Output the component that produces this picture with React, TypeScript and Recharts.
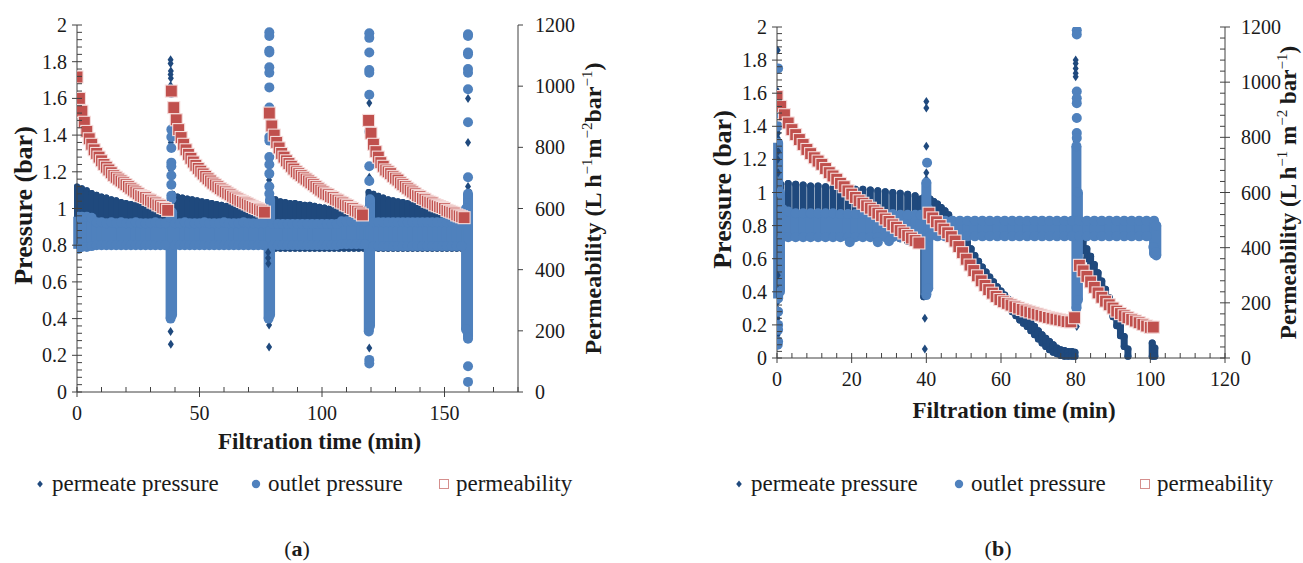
import React from 'react';
import { ScatterChart, Scatter, XAxis, YAxis, ErrorBar, Legend } from 'recharts';

const DARK = '#1f497d';
const LIGHT = '#4f81bd';
const RED = '#c0504d';
const AXIS = '#404040';
const INK = '#1a1a1a';
const FONT = '"Liberation Serif", "Times New Roman", Times, serif';

// axis tick labels
const pressureTicks = [0, 0.2, 0.4, 0.6, 0.8, 1, 1.2, 1.4, 1.6, 1.8, 2];
const permTicks = [0, 200, 400, 600, 800, 1000, 1200];
const timeTicksA = [0, 50, 100, 150];
const timeTicksB = [0, 20, 40, 60, 80, 100, 120];

// minor tick positions
const pressureMinor = Array.from({ length: 51 }, (_, i) => Math.round(i * 4) / 100);
const timeMinorA = Array.from({ length: 19 }, (_, i) => i * 10);
const timeMinorB = Array.from({ length: 31 }, (_, i) => i * 4);
const permMinorB = Array.from({ length: 31 }, (_, i) => i * 40);

type Band = [number, number, number]; // [time min, low bar, high bar] of a dense cloud of readings
type Pt = [number, number]; // [time min, bar]

// ---------- (a) ----------
const permeateBandA: Band[] = [
  [0, 0.86, 1.12], [2, 0.86, 1.11], [4, 0.86, 1.1], [6, 0.86, 1.085], [8, 0.86, 1.075], [10, 0.86, 1.065],
  [12, 0.86, 1.06], [14, 0.86, 1.05], [16, 0.86, 1.045], [18, 0.86, 1.035], [20, 0.86, 1.03], [22, 0.86, 1.025],
  [24, 0.86, 1.02], [26, 0.86, 1.01], [28, 0.86, 1.005], [30, 0.86, 1.0], [32, 0.86, 0.99], [34, 0.86, 0.985],
  [36, 0.86, 0.975], [37.5, 0.86, 0.965],
  [39, 0.86, 1.08], [41, 0.86, 1.065], [43, 0.86, 1.06], [45, 0.86, 1.055], [47, 0.86, 1.05], [49, 0.86, 1.045],
  [51, 0.86, 1.04], [53, 0.86, 1.035], [55, 0.86, 1.03], [57, 0.86, 1.025], [59, 0.86, 1.02], [61, 0.86, 1.015],
  [63, 0.86, 1.01], [65, 0.86, 1.005], [67, 0.86, 1.0], [69, 0.86, 0.99], [71, 0.86, 0.985], [73, 0.86, 0.98],
  [75, 0.86, 0.975], [77, 0.86, 0.965],
  [79, 0.78, 1.06], [81, 0.78, 1.05], [83, 0.78, 1.04], [85, 0.78, 1.035], [87, 0.78, 1.03], [89, 0.78, 1.03],
  [91, 0.78, 1.025], [93, 0.78, 1.02], [95, 0.78, 1.02], [97, 0.78, 1.015], [99, 0.78, 1.01], [101, 0.78, 1.005],
  [103, 0.78, 1.0], [105, 0.78, 0.99], [107, 0.78, 0.985], [109, 0.78, 0.975], [111, 0.78, 0.97], [113, 0.78, 0.96],
  [115, 0.78, 0.955], [117, 0.78, 0.945],
  [119, 0.78, 1.09], [121, 0.78, 1.08], [123, 0.78, 1.07], [125, 0.78, 1.06], [127, 0.78, 1.05], [129, 0.78, 1.045],
  [131, 0.78, 1.04], [133, 0.78, 1.035], [135, 0.78, 1.03], [137, 0.78, 1.025], [139, 0.78, 1.02], [141, 0.78, 1.015],
  [143, 0.78, 1.01], [145, 0.78, 1.005], [147, 0.78, 1.0], [149, 0.78, 0.995], [151, 0.78, 0.99], [153, 0.78, 0.985],
  [155, 0.78, 0.98], [157, 0.78, 0.97], [159, 0.78, 1.05], [160, 0.8, 1.09],
];
const permeateDotsA: Pt[] = [
  [38.2, 1.81], [38.2, 1.79], [38.3, 1.75], [38.2, 1.73], [38.3, 1.71], [38.2, 1.67], [38.3, 1.36], [38.2, 1.25],
  [38.3, 1.21], [38.2, 0.33], [38.3, 0.26],
  [78.4, 1.155], [78.0, 0.76], [78.0, 0.73], [78.1, 0.7], [78.4, 0.365], [78.4, 0.245],
  [119.3, 1.575], [119.3, 1.17], [119.3, 0.24],
  [159.6, 1.6], [159.6, 1.36], [159.6, 1.12],
];
const outletBandA: Band[] = [
  [0.5, 0.78, 0.955], [2, 0.79, 0.955], [4, 0.79, 0.955], [6, 0.795, 0.95], [8, 0.8, 0.925], [10, 0.8, 0.925],
  [12, 0.8, 0.92], [14, 0.8, 0.925], [16, 0.8, 0.92], [18, 0.8, 0.925], [20, 0.8, 0.92], [22, 0.8, 0.92],
  [24, 0.8, 0.925], [26, 0.8, 0.92], [28, 0.8, 0.92], [30, 0.8, 0.92], [32, 0.8, 0.925], [34, 0.8, 0.92], [36, 0.8, 0.92],
  [38.2, 0.4, 0.95], [38.8, 0.42, 0.98],
  [40, 0.8, 0.92], [42, 0.8, 0.92], [44, 0.8, 0.925], [46, 0.8, 0.92], [48, 0.8, 0.92], [50, 0.8, 0.92],
  [52, 0.8, 0.925], [54, 0.8, 0.92], [56, 0.8, 0.92], [58, 0.8, 0.92], [60, 0.8, 0.925], [62, 0.8, 0.92],
  [64, 0.8, 0.92], [66, 0.8, 0.92], [68, 0.8, 0.925], [70, 0.8, 0.92], [72, 0.8, 0.92], [74, 0.8, 0.92], [76, 0.8, 0.92],
  [78.2, 0.4, 1.0], [78.8, 0.42, 1.05],
  [80, 0.8, 0.915], [82, 0.8, 0.915], [84, 0.8, 0.915], [86, 0.8, 0.915], [88, 0.8, 0.915], [90, 0.8, 0.915],
  [92, 0.8, 0.915], [94, 0.8, 0.915], [96, 0.8, 0.915], [98, 0.8, 0.915], [100, 0.8, 0.915], [102, 0.8, 0.915],
  [104, 0.8, 0.915], [106, 0.8, 0.915], [108, 0.805, 0.93], [110, 0.805, 0.93], [112, 0.805, 0.93], [114, 0.805, 0.93],
  [116, 0.805, 0.93], [117.5, 0.805, 0.93],
  [119.1, 0.33, 1.0], [119.6, 0.36, 1.05],
  [121, 0.795, 0.925], [123, 0.795, 0.925], [125, 0.795, 0.925], [127, 0.795, 0.925], [129, 0.795, 0.925],
  [131, 0.795, 0.925], [133, 0.795, 0.925], [135, 0.795, 0.925], [137, 0.795, 0.925], [139, 0.795, 0.925],
  [141, 0.795, 0.925], [143, 0.795, 0.925], [145, 0.795, 0.925], [147, 0.795, 0.925], [149, 0.795, 0.925],
  [151, 0.795, 0.925], [153, 0.795, 0.925], [155, 0.795, 0.925], [157, 0.795, 0.925],
  [158.8, 0.34, 1.0], [159.6, 0.3, 1.08],
];
const outletDotsA: Pt[] = [
  [38.5, 1.63], [38.5, 1.43], [38.5, 1.39], [38.5, 1.33], [38.5, 1.25], [38.5, 1.23], [38.5, 1.18], [38.5, 1.13],
  [38.5, 1.07], [38.5, 1.05],
  [78.5, 1.96], [78.5, 1.94], [78.5, 1.86], [78.5, 1.85], [78.5, 1.77], [78.5, 1.74], [78.5, 1.66], [78.5, 1.55],
  [78.5, 1.51], [78.5, 1.39], [78.5, 1.37], [78.5, 1.28], [78.5, 1.24], [78.5, 1.19], [78.5, 1.12], [78.5, 1.08],
  [119.3, 1.955], [119.3, 1.93], [119.3, 1.85], [119.3, 1.755], [119.3, 1.74], [119.3, 1.62], [119.3, 1.42],
  [119.3, 1.23], [119.3, 1.15], [119.3, 0.175], [119.3, 0.155],
  [159.6, 1.95], [159.6, 1.94], [159.6, 1.85], [159.6, 1.84], [159.6, 1.76], [159.6, 1.74], [159.6, 1.65],
  [159.6, 1.47], [159.6, 1.17], [159.6, 0.29], [159.6, 0.14], [159.6, 0.055],
];
// permeability, one reading per minute from the start of each cycle (L h-1 m-2 bar-1)
const permA1Start = 0;
const permA1 = [1030, 960, 918, 882, 852, 828, 810, 792, 780, 768, 756, 744, 735, 726, 717, 708, 702, 696, 690, 684,
  678, 672, 666, 660, 654, 648, 642, 639, 636, 630, 627, 621, 618, 612, 609, 603, 600, 594];
const permA2Start = 38.5;
const permA2 = [984, 930, 890, 858, 832, 810, 792, 777, 764, 752, 741, 731, 722, 713, 705, 697, 690, 683, 677, 671,
  665, 660, 655, 650, 645, 640, 635, 631, 627, 623, 619, 615, 611, 607, 603, 600, 596, 592, 588];
const permA3Start = 78.5;
const permA3 = [912, 870, 840, 816, 798, 780, 768, 756, 747, 738, 729, 720, 714, 708, 702, 696, 690, 684, 678, 672,
  666, 660, 654, 648, 645, 639, 636, 630, 627, 621, 618, 612, 609, 603, 600, 594, 591, 585, 579];
const permA4Start = 119;
const permA4 = [888, 846, 810, 786, 768, 750, 738, 726, 720, 714, 705, 699, 693, 684, 678, 672, 666, 660, 654, 648,
  642, 639, 633, 630, 624, 621, 618, 612, 609, 606, 603, 600, 594, 591, 588, 585, 579, 576, 573, 570];

// ---------- (b) ----------
const permeateBandB: Band[] = [
  [1, 0.87, 1.05], [3, 0.87, 1.055], [5, 0.87, 1.05], [7, 0.865, 1.045], [9, 0.86, 1.04], [11, 0.855, 1.04],
  [13, 0.85, 1.035], [15, 0.845, 1.03], [17, 0.84, 1.025], [19, 0.83, 1.025], [21, 0.82, 1.02], [23, 0.81, 1.02],
  [25, 0.79, 1.015], [27, 0.775, 1.01], [29, 0.76, 1.005], [31, 0.74, 1.0], [33, 0.72, 0.995], [35, 0.705, 0.99],
  [37, 0.69, 0.98], [38.5, 0.68, 0.96],
  [39.3, 0.37, 0.97], [39.8, 0.4, 1.0],
  [41, 0.89, 0.96], [42, 0.875, 0.945], [43, 0.86, 0.93], [44, 0.84, 0.91], [45, 0.82, 0.89], [46, 0.805, 0.865],
  [47, 0.785, 0.835], [48, 0.76, 0.81], [49, 0.73, 0.78], [50, 0.69, 0.74], [51, 0.65, 0.7], [52, 0.61, 0.66],
  [53, 0.57, 0.62], [54, 0.535, 0.585], [55, 0.5, 0.55], [56, 0.47, 0.52], [57, 0.44, 0.49], [58, 0.41, 0.46],
  [59, 0.38, 0.43], [60, 0.355, 0.405], [61, 0.33, 0.38], [62, 0.305, 0.355], [63, 0.28, 0.33], [64, 0.255, 0.305],
  [65, 0.23, 0.28], [66, 0.21, 0.26], [67, 0.19, 0.24], [68, 0.165, 0.215], [69, 0.14, 0.19], [70, 0.115, 0.165],
  [71, 0.09, 0.14], [72, 0.07, 0.12], [73, 0.05, 0.1], [74, 0.035, 0.08], [75, 0.025, 0.06], [76, 0.015, 0.05],
  [77, 0.01, 0.045], [78, 0.01, 0.04], [79, 0.01, 0.04], [79.8, 0.01, 0.035],
  [81, 0.69, 0.75], [82, 0.65, 0.71], [83, 0.6, 0.66], [84, 0.555, 0.615], [85, 0.505, 0.565], [86, 0.455, 0.515],
  [87, 0.405, 0.465], [88, 0.355, 0.415], [89, 0.305, 0.365], [90, 0.25, 0.31], [91, 0.195, 0.255], [92, 0.135, 0.195],
  [93, 0.07, 0.13], [94, 0.01, 0.055],
  [100.5, 0.01, 0.09], [101.2, 0.01, 0.06],
];
const permeateDotsB: Pt[] = [
  [0.2, 1.86], [0.2, 1.61], [0.3, 1.5], [0.3, 1.36], [0.2, 1.33], [0.3, 1.25], [0.2, 1.2], [0.3, 1.12],
  [0.2, 0.5], [0.3, 0.41], [0.2, 0.34], [0.3, 0.29], [0.2, 0.24], [0.3, 0.2], [0.2, 0.14],
  [40, 1.55], [40, 1.51], [40, 1.28], [40, 1.12], [40, 1.08], [39.6, 0.24], [39.6, 0.055],
  [80, 1.8], [80, 1.78], [80, 1.75], [80, 1.72], [80, 1.7], [80, 1.45], [80, 1.31], [80.5, 0.27], [80.3, 0.19],
];
const outletBandB: Band[] = [
  [0.3, 0.36, 1.3], [0.8, 0.4, 1.0],
  [1.5, 0.73, 0.9], [3, 0.73, 0.885], [5, 0.73, 0.875], [7, 0.73, 0.875], [9, 0.73, 0.875], [11, 0.73, 0.875],
  [13, 0.73, 0.875], [15, 0.73, 0.875], [17, 0.73, 0.87], [19, 0.73, 0.87], [21, 0.73, 0.87], [23, 0.73, 0.87],
  [25, 0.73, 0.87], [27, 0.73, 0.87], [29, 0.73, 0.87], [31, 0.73, 0.87], [33, 0.73, 0.865], [35, 0.73, 0.865],
  [37, 0.73, 0.865], [38.5, 0.73, 0.865],
  [40, 0.38, 1.06], [40.5, 0.42, 0.9],
  [41, 0.735, 0.83], [43, 0.735, 0.83], [45, 0.735, 0.83], [47, 0.735, 0.83], [49, 0.735, 0.83], [51, 0.735, 0.83],
  [53, 0.735, 0.83], [55, 0.735, 0.83], [57, 0.735, 0.83], [59, 0.735, 0.83], [61, 0.735, 0.83], [63, 0.735, 0.83],
  [65, 0.735, 0.83], [67, 0.735, 0.83], [69, 0.735, 0.83], [71, 0.735, 0.83], [73, 0.735, 0.83], [75, 0.735, 0.83],
  [77, 0.735, 0.83], [79, 0.735, 0.83], [81, 0.735, 0.83], [83, 0.735, 0.83], [85, 0.735, 0.83], [87, 0.735, 0.83],
  [89, 0.735, 0.83], [91, 0.735, 0.83], [93, 0.735, 0.83], [95, 0.735, 0.83], [97, 0.735, 0.83], [99, 0.735, 0.83],
  [101, 0.63, 0.83], [101.6, 0.62, 0.8],
  [80.2, 0.3, 1.28], [80.6, 0.35, 1.0],
];
const outletDotsB: Pt[] = [
  [0.3, 1.75], [0.3, 1.48], [0.3, 1.4], [0.3, 0.28], [0.3, 0.2], [0.3, 0.17], [0.3, 0.1], [0.2, 0.08],
  [19.5, 0.7], [27, 0.7], [30, 0.705],
  [40.2, 1.18],
  [80.3, 1.98], [80.3, 1.955], [80.3, 1.61], [80.3, 1.57], [80.3, 1.54], [80.3, 1.45], [80.3, 1.36], [80.3, 1.33],
  [100.8, 0.67], [101.5, 0.64],
];
const permB1Start = 0;
const permB1 = [948, 912, 882, 852, 828, 810, 792, 774, 756, 741, 726, 714, 702, 687, 672, 660, 648, 633, 621, 606,
  594, 582, 570, 561, 552, 543, 534, 525, 516, 504, 495, 483, 474, 462, 453, 444, 435, 426, 417];
const permB2Start = 40.7;
const permB2 = [525, 508, 494, 480, 467, 454, 440, 424, 404, 382, 358, 337, 317, 298, 280, 263, 248, 235, 223, 212,
  204, 198, 192, 186, 181, 176, 171, 167, 163, 159, 155, 151, 147, 144, 141, 138, 135, 132, 131, 146];
const permB3Start = 81;
const permB3 = [336, 316, 296, 276, 256, 236, 220, 206, 193, 181, 170, 161, 153, 146, 140, 134, 128, 122, 116, 111];
const permB3Last: Pt = [100.8, 112];

// ---------- helpers ----------
const bandTop = (rows: Band[]) => rows.map(([x, lo, hi]) => ({ x, y: hi, err: [hi - lo, 0] }));
const bandLow = (rows: Band[]) => rows.map(([x, lo]) => ({ x, y: lo }));
const pts = (rows: Pt[]) => rows.map(([x, y]) => ({ x, y }));
const perMinute = (start: number, vals: number[]) => vals.map((v, i) => ({ x: start + i, y: v }));

const permDataA = [
  ...perMinute(permA1Start, permA1),
  ...perMinute(permA2Start, permA2),
  ...perMinute(permA3Start, permA3),
  ...perMinute(permA4Start, permA4),
];
const permDataB = [
  ...perMinute(permB1Start, permB1),
  ...perMinute(permB2Start, permB2),
  ...perMinute(permB3Start, permB3),
  ...pts([permB3Last]),
];

const noMark = () => <g />;
const diamond = (p: any) => (
  <path d={`M${p.cx},${p.cy - 4.5}L${p.cx + 3},${p.cy}L${p.cx},${p.cy + 4.5}L${p.cx - 3},${p.cy}Z`} fill={DARK} />
);
const circle = (p: any) => <circle cx={p.cx} cy={p.cy} r={5} fill={LIGHT} />;
const square = (p: any) => (
  <rect x={p.cx - 6} y={p.cy - 6} width={12} height={12} fill={RED} stroke="#f5dcdb" strokeWidth={1.1} />
);

const txtStyle = { fontFamily: FONT };

type Side = 'left' | 'right' | 'bottom';
const tickRenderer = (side: Side, majors: number[], cross: boolean, gap: number) => (props: any) => {
  const { x, y, payload } = props;
  const v = Number(payload.value);
  const major = majors.find((m) => Math.abs(m - v) < 1e-6);
  const isMajor = major !== undefined;
  const L = 5;
  const txt = { style: txtStyle, fontSize: 20, fill: INK };
  if (side === 'bottom') {
    return (
      <g>
        <line x1={x} x2={x} y1={y - L} y2={isMajor ? y + L : y} stroke={AXIS} />
        {isMajor && <text x={x} y={y + gap} textAnchor="middle" {...txt}>{String(major)}</text>}
      </g>
    );
  }
  if (side === 'left') {
    return (
      <g>
        <line x1={isMajor ? x - L : x} x2={x + L} y1={y} y2={y} stroke={AXIS} />
        {isMajor && <text x={x - gap} y={y} dy="0.35em" textAnchor="end" {...txt}>{String(major)}</text>}
      </g>
    );
  }
  return (
    <g>
      <line x1={isMajor && !cross ? x : x - L} x2={isMajor ? x + L : x} y1={y} y2={y} stroke={AXIS} />
      {isMajor && <text x={x + gap} y={y} dy="0.35em" textAnchor="start" {...txt}>{String(major)}</text>}
    </g>
  );
};

const SUP = { fontSize: 15, fontWeight: 'normal' as const };

function LegendRow({ xs }: { xs: number[] }) {
  const items = ['permeate pressure', 'outlet pressure', 'permeability'];
  const marks = [
    <path key="d" d="M6,2.5L8.8,6L6,9.5L3.2,6Z" fill={DARK} />,
    <circle key="c" cx={6} cy={6} r={4.2} fill={LIGHT} />,
    <rect key="s" x={1.5} y={1.5} width={9} height={9} fill="#fff" stroke="#d58f8d" />,
  ];
  return (
    <div style={{ position: 'relative', height: 28, fontFamily: FONT, fontSize: 23, color: INK }}>
      {items.map((label, i) => (
        <div key={label} style={{ position: 'absolute', left: xs[i], top: 0, display: 'flex', alignItems: 'center', whiteSpace: 'nowrap', lineHeight: '28px' }}>
          <svg width={12} height={12}>{marks[i]}</svg>
          <span style={{ marginLeft: 6 }}>{label}</span>
        </div>
      ))}
    </div>
  );
}

interface PanelProps {
  width: number;
  margin: { top: number; right: number; bottom: number; left: number };
  xMax: number;
  xTicks: number[];
  xMajors: number[];
  permAxisTicks: number[];
  permCross: boolean;
  permGap: number;
  permeateBand: Band[];
  permeateDots: Pt[];
  outletBand: Band[];
  outletDots: Pt[];
  permeability: { x: number; y: number }[];
  darkBar: number;
  xTitleShift: number;
  xTitleDrop: number;
  yTitleX: number;
  permTitleX: number;
  permTitleSize: number;
  spaced: boolean;
  legendXs: number[];
}

function Panel(p: PanelProps) {
  return (
    <ScatterChart width={p.width} height={563} margin={p.margin}>
      <XAxis
        xAxisId="t"
        type="number"
        dataKey="x"
        domain={[0, p.xMax]}
        ticks={p.xTicks}
        interval={0}
        allowDataOverflow
        tickSize={0}
        tickMargin={0}
        tickLine={false}
        axisLine={{ stroke: AXIS }}
        tick={tickRenderer('bottom', p.xMajors, true, 28)}
        height={30}
        label={(lp: any) => {
          const vb = lp.viewBox;
          return (
            <text x={vb.x + vb.width / 2 + p.xTitleShift} y={vb.y + p.xTitleDrop} textAnchor="middle" style={txtStyle} fontWeight="bold" fontSize={23} fill={INK}>
              Filtration time (min)
            </text>
          );
        }}
      />
      <YAxis
        yAxisId="p"
        type="number"
        dataKey="y"
        domain={[0, 2]}
        ticks={pressureMinor}
        interval={0}
        allowDataOverflow
        tickSize={0}
        tickMargin={0}
        tickLine={false}
        axisLine={{ stroke: AXIS }}
        tick={tickRenderer('left', pressureTicks, true, 10)}
        width={60}
        label={(lp: any) => {
          const vb = lp.viewBox;
          const cx = vb.x + p.yTitleX;
          const cy = vb.y + vb.height / 2 - 3;
          return (
            <text x={cx} y={cy} dy="0.35em" transform={`rotate(-90 ${cx} ${cy})`} textAnchor="middle" style={txtStyle} fontWeight="bold" fontSize={26} fill={INK}>
              Pressure (bar)
            </text>
          );
        }}
      />
      <YAxis
        yAxisId="k"
        orientation="right"
        type="number"
        dataKey="y"
        domain={[0, 1200]}
        ticks={p.permAxisTicks}
        interval={0}
        allowDataOverflow
        tickSize={0}
        tickMargin={0}
        tickLine={false}
        axisLine={{ stroke: AXIS }}
        tick={tickRenderer('right', permTicks, p.permCross, p.permGap)}
        width={60}
        label={(lp: any) => {
          const vb = lp.viewBox;
          const cx = vb.x + p.permTitleX;
          const cy = vb.y + vb.height / 2;
          return (
            <text x={cx} y={cy} dy="0.35em" transform={`rotate(-90 ${cx} ${cy})`} textAnchor="middle" style={txtStyle} fontWeight="bold" fontSize={p.permTitleSize} fill={INK}>
              Permeability (L h<tspan dy={-9} {...SUP}>−1</tspan>
              <tspan dy={9}>{p.spaced ? ' m' : 'm'}</tspan>
              <tspan dy={-9} {...SUP}>−2</tspan>
              <tspan dy={9}>{p.spaced ? ' bar' : 'bar'}</tspan>
              <tspan dy={-9} {...SUP}>−1</tspan>
              <tspan dy={9}>)</tspan>
            </text>
          );
        }}
      />

      <Scatter xAxisId="t" yAxisId="p" data={bandTop(p.permeateBand)} shape={noMark} isAnimationActive={false}>
        <ErrorBar dataKey="err" direction="y" width={0} strokeWidth={p.darkBar} strokeLinecap="round" stroke={DARK} isAnimationActive={false} />
      </Scatter>
      <Scatter xAxisId="t" yAxisId="p" data={pts(p.permeateDots)} shape={diamond} isAnimationActive={false} />

      <Scatter xAxisId="t" yAxisId="p" data={bandTop(p.outletBand)} shape={circle} isAnimationActive={false}>
        <ErrorBar dataKey="err" direction="y" width={0} strokeWidth={10} stroke={LIGHT} isAnimationActive={false} />
      </Scatter>
      <Scatter xAxisId="t" yAxisId="p" data={bandLow(p.outletBand)} shape={circle} isAnimationActive={false} />
      <Scatter xAxisId="t" yAxisId="p" data={pts(p.outletDots)} shape={circle} isAnimationActive={false} />

      <Scatter xAxisId="t" yAxisId="k" data={p.permeability} shape={square} isAnimationActive={false} />

      <Legend
        layout="horizontal"
        verticalAlign="middle"
        align="center"
        wrapperStyle={{ top: 470, left: 0, width: p.width }}
        content={() => <LegendRow xs={p.legendXs} />}
      />
    </ScatterChart>
  );
}

function Caption({ x, letter }: { x: number; letter: string }) {
  return (
    <div style={{ position: 'absolute', left: x, top: 536, transform: 'translateX(-50%)', fontFamily: FONT, fontSize: 22, color: INK, whiteSpace: 'nowrap' }}>
      (<b>{letter}</b>)
    </div>
  );
}

export default function App() {
  return (
    <div style={{ position: 'absolute', left: 0, top: 0, width: 1303, height: 563, background: '#fff', overflow: 'hidden', fontFamily: FONT }}>
      <div style={{ position: 'absolute', left: 0, top: 0 }}>
        <Panel
          width={650}
          margin={{ top: 25, right: 72, bottom: 141, left: 17 }}
          xMax={180}
          xTicks={timeMinorA}
          xMajors={timeTicksA}
          permAxisTicks={permTicks}
          permCross={false}
          permGap={17}
          permeateBand={permeateBandA}
          permeateDots={permeateDotsA}
          outletBand={outletBandA}
          outletDots={outletDotsA}
          permeability={permDataA}
          darkBar={6}
          xTitleShift={22}
          xTitleDrop={57}
          yTitleX={6}
          permTitleX={75}
          permTitleSize={24}
          spaced={false}
          legendXs={[34, 250, 438]}
        />
      </div>
      <div style={{ position: 'absolute', left: 650, top: 0 }}>
        <Panel
          width={653}
          margin={{ top: 27, right: 18, bottom: 175, left: 67 }}
          xMax={120}
          xTicks={timeMinorB}
          xMajors={timeTicksB}
          permAxisTicks={permMinorB}
          permCross={true}
          permGap={16}
          permeateBand={permeateBandB}
          permeateDots={permeateDotsB}
          outletBand={outletBandB}
          outletDots={outletDotsB}
          permeability={permDataB}
          darkBar={7}
          xTitleShift={13}
          xTitleDrop={60}
          yTitleX={5}
          permTitleX={63}
          permTitleSize={23}
          spaced={true}
          legendXs={[83, 303, 489]}
        />
      </div>
      <Caption x={297} letter="a" />
      <Caption x={998} letter="b" />
    </div>
  );
}
